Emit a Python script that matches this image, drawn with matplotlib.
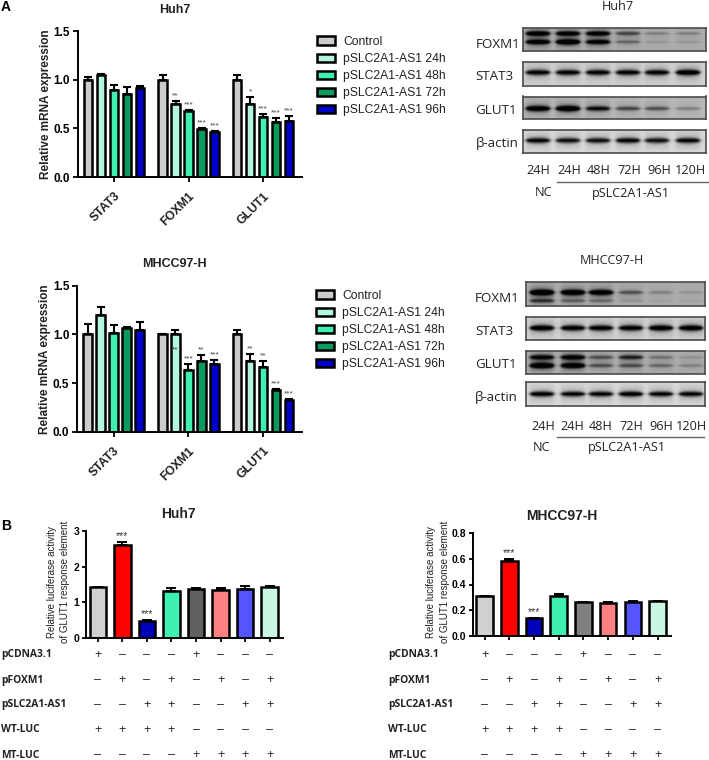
import numpy as np
import matplotlib
matplotlib.use("Agg")
import matplotlib.pyplot as plt
from matplotlib.transforms import blended_transform_factory

W, H = 709, 760

genes = ["STAT3", "FOXM1", "GLUT1"]
series_names = ["Control", "pSLC2A1-AS1 24h", "pSLC2A1-AS1 48h", "pSLC2A1-AS1 72h", "pSLC2A1-AS1 96h"]
series_colors = ["#cccccc", "#b4f5dd", "#40f0b0", "#0a9a60", "#0000cc"]

huh7_mrna = [[1.0, 1.05, 0.89, 0.855, 0.915], [1.0, 0.75, 0.675, 0.49, 0.46], [1.0, 0.75, 0.62, 0.565, 0.58]]
huh7_mrna_err = [[0.03, 0.01, 0.06, 0.07, 0.015], [0.045, 0.03, 0.01, 0.01, 0.01], [0.05, 0.07, 0.03, 0.04, 0.05]]
huh7_mrna_sig = [["", "", "", "", ""], ["", "**", "***", "***", "***"], ["", "*", "***", "***", "***"]]

mhcc_mrna = [[1.0, 1.2, 1.01, 1.07, 1.05], [1.0, 1.0, 0.635, 0.73, 0.70], [1.0, 0.73, 0.665, 0.43, 0.33]]
mhcc_mrna_err = [[0.11, 0.08, 0.09, 0.01, 0.08], [0.005, 0.04, 0.06, 0.06, 0.04], [0.04, 0.07, 0.06, 0.01, 0.01]]
mhcc_mrna_sig = [["", "", "", "", ""], ["", "**", "***", "**", "***"], ["", "**", "**", "***", "***"]]

luc_colors_huh7 = ["#d0d0d0", "#ff0000", "#0000bb", "#40f0b0", "#606060", "#ff8080", "#5555ff", "#c8f8e4"]
luc_colors_mhcc = ["#d0d0d0", "#ff0000", "#0000bb", "#40f0b0", "#808080", "#ff8080", "#5555ff", "#c8f8e4"]
huh7_luc = [1.43, 2.62, 0.49, 1.31, 1.39, 1.36, 1.39, 1.43]
huh7_luc_err = [0.01, 0.09, 0.02, 0.09, 0.015, 0.05, 0.07, 0.03]
mhcc_luc = [0.31, 0.58, 0.14, 0.31, 0.265, 0.26, 0.265, 0.27]
mhcc_luc_err = [0.002, 0.02, 0.002, 0.02, 0.002, 0.002, 0.006, 0.004]
luc_sig = ["", "***", "***", "", "", "", "", ""]

construct_names = ["pCDNA3.1", "pFOXM1", "pSLC2A1-AS1", "WT-LUC", "MT-LUC"]
construct_signs = ["+---+---", "-+-+-+-+", "--++--++", "++++----", "----++++"]

lane_names = ["24H", "24H", "48H", "72H", "96H", "120H"]
blot_names = ["FOXM1", "STAT3", "GLUT1", "β-actin"]

# band strength per lane, one list per band in the blot
huh7_foxm1 = [[0.85, 0.8, 0.8, 0.45, 0.2, 0.2], [0.85, 0.95, 0.8, 0.3, 0.1, 0.1]]
huh7_stat3 = [[0.9, 0.9, 0.9, 0.9, 0.9, 1.0]]
huh7_glut1 = [[0.95, 1.0, 0.75, 0.5, 0.45, 0.25]]
huh7_actin = [[0.9, 0.85, 0.85, 0.9, 0.85, 0.9]]
mhcc_foxm1 = [[1.0, 0.95, 0.9, 0.4, 0.2, 0.12], [0.5, 0.3, 0.25, 0.1, 0.05, 0.05]]
mhcc_stat3 = [[1.0, 0.95, 0.95, 0.95, 1.0, 1.0]]
mhcc_glut1 = [[0.75, 0.8, 0.4, 0.6, 0.25, 0.12], [0.95, 0.9, 0.4, 0.4, 0.3, 0.2]]
mhcc_actin = [[0.95, 0.9, 0.9, 0.95, 0.9, 0.9]]

plt.rcParams["font.family"] = ["Liberation Sans", "DejaVu Sans"]
fig = plt.figure(figsize=(W / 100, H / 100), dpi=100)


def px_axes(left, top, right, bottom):
    return fig.add_axes([left / W, 1 - bottom / H, (right - left) / W, (bottom - top) / H])


def px_text(x, y, s, **kw):
    kw.setdefault("ha", "center")
    kw.setdefault("va", "center")
    return fig.text(x / W, 1 - y / H, s, **kw)


def style_axes(ax):
    for side in ["top", "right"]:
        ax.spines[side].set_visible(False)
    for side in ["left", "bottom"]:
        ax.spines[side].set_linewidth(1.4)
    ax.tick_params(width=1.3, length=3.5, pad=2)


def mrna_panel(box, values, errors, sig, ylabel_x, sig_inside=()):
    ax = px_axes(*box)
    style_axes(ax)
    handles = []
    for g, group in enumerate(values):
        xs = g * 5.73 + np.arange(5)
        for i, v in enumerate(group):
            bar = ax.bar(xs[i], v, 0.66, color=series_colors[i], edgecolor="black", linewidth=1.8, zorder=2)
            ax.errorbar(xs[i], v, yerr=[[0], [errors[g][i]]], color="black", lw=1.5, capsize=2.8, capthick=1.5, zorder=1)
            if g == 0:
                handles.append(bar)
            if sig[g][i]:
                # one label in MHCC97-H sits on the bar, below its top
                y = v - 0.2 if (g, i) in sig_inside else v + errors[g][i] + 0.015
                ax.text(xs[i], y, sig[g][i], ha="center", va="bottom", fontsize=6, color="#444444", linespacing=0, zorder=3)
    ax.set_xlim(-0.81, 16.46)
    ax.set_ylim(0, 1.5)
    ax.set_yticks([0, 0.5, 1.0, 1.5], ["0.0", "0.5", "1.0", "1.5"], fontsize=8.5, fontweight="bold")
    ax.set_xticks([2 + g * 5.73 for g in range(3)])
    ax.set_xticklabels(genes, fontsize=8.7, fontweight="bold", rotation=45, ha="right", rotation_mode="anchor", color="#222222")
    ax.tick_params(axis="x", pad=6)
    px_text(ylabel_x, (box[1] + box[3]) / 2, "Relative mRNA expression", rotation=90, fontsize=8.5, fontweight="bold", color="#222222")
    return handles


def add_legend(handles, x, y):
    leg = fig.legend(handles, series_names, loc="upper left", bbox_to_anchor=(x / W, 1 - y / H), frameon=False,
                     fontsize=8.7, handlelength=1.45, handleheight=0.72, labelspacing=0.42, handletextpad=0.72,
                     borderpad=0, borderaxespad=0)
    for text in leg.get_texts():
        text.set_color("#222222")


def blot_panel(box, bands, band_rows, lanes, background):
    left, top, right, bottom = box
    ax = px_axes(left, top, right, bottom)
    nx, ny = int(right - left) * 3, int(bottom - top) * 3
    px = left + (np.arange(nx) + 0.5) / 3
    py = top + (np.arange(ny) + 0.5) / 3
    img = np.full((ny, nx), float(background))
    for strengths, row_y in zip(bands, band_rows):
        for lane, s in zip(lanes, strengths):
            across = 0.5 * (np.tanh((px - lane + 12) / 2.2) - np.tanh((px - lane - 12) / 2.2))
            # bands are thicker in the middle of the lane and taper to the ends
            bulge = 0.55 + 0.45 * np.clip(1 - ((px - lane) / 13) ** 2, 0, 1)
            sigma = (1.2 + 1.7 * s) * bulge
            for col in range(nx):
                img[:, col] -= 0.8 * s * across[col] * np.exp(-((py - (top + row_y)) / sigma[col]) ** 2)
                img[:, col] -= 0.16 * s * across[col] * np.exp(-((py - (top + row_y)) / 8) ** 2)
    ax.imshow(np.clip(img, 0, 1), cmap="gray", vmin=0, vmax=1, aspect="auto", interpolation="bilinear")
    ax.set_xticks([])
    ax.set_yticks([])
    for s in ax.spines.values():
        s.set_linewidth(1.2)
        s.set_edgecolor("#4a4a4a")


def luc_panel(box, values, errors, colors, yticks, yticklabels, ymax, label_xs, label_y, name_x):
    ax = px_axes(*box)
    style_axes(ax)
    xs = np.arange(8)
    for i in xs:
        ax.bar(i, values[i], 0.67, color=colors[i], edgecolor="black", linewidth=1.8, zorder=2)
        ax.errorbar(i, values[i], yerr=[[0], [errors[i]]], color="black", lw=1.4, capsize=3.5, capthick=1.4, zorder=1)
        if luc_sig[i]:
            ax.text(i, values[i] + errors[i] + ymax * 0.005, luc_sig[i], ha="center", va="bottom", fontsize=7.5, color="#333333", linespacing=0)
    ax.set_xlim(-0.48, 7.53)
    ax.set_ylim(0, ymax)
    ax.set_yticks(yticks, yticklabels, fontsize=7.5, fontweight="bold")
    ax.set_xticks(xs, [""] * 8)
    ax.tick_params(length=3)
    for x, line in zip(label_xs, ["Relative luciferase activity", "of GLUT1 response element"]):
        px_text(x, label_y, line, rotation=90, fontsize=7, color="#222222")
    trans = blended_transform_factory(ax.transData, fig.transFigure)
    for r, (name, signs) in enumerate(zip(construct_names, construct_signs)):
        row_y = 655 + r * 25
        px_text(name_x, row_y, name, ha="left", family="Open Sans", fontweight="bold", fontsize=7.4, color="#222222")
        for i, sign in enumerate(signs):
            ax.text(i, 1 - row_y / H, "+" if sign == "+" else "–", transform=trans, ha="center", va="center", fontsize=9, color="#222222")


px_text(6, 7, "A", fontsize=10, fontweight="bold")
px_text(6, 526, "B", fontsize=10, fontweight="bold")

px_text(175, 10, "Huh7", fontsize=9, fontweight="bold", color="#222222")
bars = mrna_panel((77.5, 31, 302, 177), huh7_mrna, huh7_mrna_err, huh7_mrna_sig, 46)
add_legend(bars, 317, 36)

px_text(174, 264, "MHCC97-H", fontsize=9, fontweight="bold", color="#222222")
bars = mrna_panel((77, 285.7, 302, 431.7), mhcc_mrna, mhcc_mrna_err, mhcc_mrna_sig, 45, sig_inside=[(1, 1)])
add_legend(bars, 316, 290)

# western blots, Huh7 on top
huh7_lanes = [538, 568, 598, 628, 657, 688]
huh7_boxes = [(523, 28, 706, 51), (523, 62, 706, 85.5), (523, 96.5, 706, 119), (523, 129.5, 706, 153)]
huh7_bands = [huh7_foxm1, huh7_stat3, huh7_glut1, huh7_actin]
huh7_band_rows = [[5.5, 14], [11], [12], [11]]
huh7_backgrounds = [0.68, 0.82, 0.72, 0.85]
for box, bands, rows, bg in zip(huh7_boxes, huh7_bands, huh7_band_rows, huh7_backgrounds):
    blot_panel(box, bands, rows, huh7_lanes, bg)
for name, y in zip(blot_names, [45, 76, 110, 144]):
    px_text(475.5, y, name, ha="left", family="Open Sans", fontsize=9.6, color="#222222")
for name, x in zip(lane_names, [538, 569, 599, 629, 659, 690]):
    px_text(x, 170.5, name, family="Open Sans", fontsize=9.1, color="#222222")
fig.add_artist(plt.Line2D([556.7 / W, 708 / W], [1 - 182 / H] * 2, color="#666666", lw=1))
px_text(543, 193, "NC", family="Open Sans", fontsize=9.1, color="#222222")
px_text(631, 193, "pSLC2A1-AS1", family="Open Sans", fontsize=9.1, color="#222222")
px_text(618, 6, "Huh7", family="Open Sans", fontsize=9.1, color="#222222")

# western blots, MHCC97-H
mhcc_lanes = [542, 573, 601, 631, 661, 691]
mhcc_boxes = [(526, 282, 705, 305.7), (526, 317, 705, 340), (526, 351, 705, 374), (526, 382, 705, 406)]
mhcc_bands = [mhcc_foxm1, mhcc_stat3, mhcc_glut1, mhcc_actin]
mhcc_band_rows = [[10, 18], [11.5], [7, 15], [12]]
mhcc_backgrounds = [0.68, 0.82, 0.68, 0.85]
for box, bands, rows, bg in zip(mhcc_boxes, mhcc_bands, mhcc_band_rows, mhcc_backgrounds):
    blot_panel(box, bands, rows, mhcc_lanes, bg)
for name, y in zip(blot_names, [299, 331, 365, 398]):
    px_text(475, y, name, ha="left", family="Open Sans", fontsize=9.6, color="#222222")
for name, x in zip(lane_names, [543, 572, 601, 631, 661, 691]):
    px_text(x, 426, name, family="Open Sans", fontsize=9.1, color="#222222")
fig.add_artist(plt.Line2D([556.7 / W, 704 / W], [1 - 436.7 / H] * 2, color="#666666", lw=1))
px_text(542, 448, "NC", family="Open Sans", fontsize=9.1, color="#222222")
px_text(627, 448, "pSLC2A1-AS1", family="Open Sans", fontsize=9.1, color="#222222")
px_text(612, 261, "MHCC97-H", family="Open Sans", fontsize=9.1, color="#222222")

# luciferase panels
px_text(178, 514.5, "Huh7", fontsize=10, fontweight="bold", color="#222222")
luc_panel((86, 531.3, 282.7, 638), huh7_luc, huh7_luc_err, luc_colors_huh7,
          [0, 1, 2, 3], ["0", "1", "2", "3"], 3, [52, 65], 582, 1)
px_text(561.5, 516, "MHCC97-H", fontsize=10, fontweight="bold", color="#222222")
luc_panel((472.7, 532.7, 670.7, 636.3), mhcc_luc, mhcc_luc_err, luc_colors_mhcc,
          [0, 0.2, 0.4, 0.6, 0.8], ["0.0", "0.2", "0.4", "0.6", "0.8"], 0.8, [431, 445], 582, 388)

fig.savefig("out.png", dpi=100)
